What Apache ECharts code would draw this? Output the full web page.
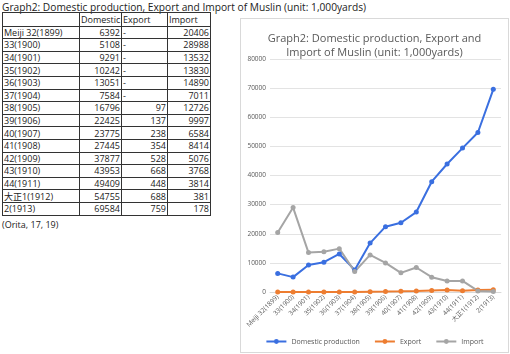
<!DOCTYPE html>
<html>
<head>
<meta charset="utf-8">
<script src="https://cdn.jsdelivr.net/npm/echarts@6/dist/echarts.min.js"></script>
<style>
  body { margin: 0; width: 510px; height: 354px; background: #fff; position: relative; overflow: hidden;
         font-family: "Open Sans", "Noto Sans CJK JP", sans-serif; }
  #title { position: absolute; left: 2px; top: 0px; font-size: 10.2px; color: #222; white-space: nowrap; }
  table { position: absolute; left: 2px; top: 12px; border-collapse: collapse; font-size: 9px; color: #222;
          table-layout: fixed; width: 208px; }
  td { border: 1px solid #333; padding: 0 1px; height: 11.6px; line-height: 11px; white-space: nowrap; overflow: hidden; }
  tr.head td { height: 12.6px; }
  td.num { text-align: right; }
  #note { position: absolute; left: 2px; top: 218px; font-size: 9px; color: #222; }
  #chart { position: absolute; left: 240px; top: 18px; width: 267px; height: 333px; border: 1px solid #d9d9d9; }
</style>
</head>
<body>
<div id="title">Graph2: Domestic production, Export and Import of Muslin (unit: 1,000yards)</div>
<table id="tbl"></table>
<div id="note">(Orita, 17, 19)</div>
<div id="chart"></div>
<script>
const years = ['Meiji 32(1899)', '33(1900)', '34(1901)', '35(1902)', '36(1903)', '37(1904)', '38(1905)',
  '39(1906)', '40(1907)', '41(1908)', '42(1909)', '43(1910)', '44(1911)', '大正1(1912)', '2(1913)'];
const domestic = [6392, 5108, 9291, 10242, 13051, 7584, 16796, 22425, 23775, 27445, 37877, 43953, 49409, 54755, 69584];
// '-' in the table, plotted as 0
const exportTable = [null, null, null, null, null, null, 97, 137, 238, 354, 528, 668, 448, 688, 759];
const imports = [20406, 28988, 13532, 13830, 14890, 7011, 12726, 9997, 6584, 8414, 5076, 3768, 3814, 381, 178];

const colors = ['#3a6fe0', '#ed7d31', '#a5a5a5'];

// table on the left
const tbl = document.getElementById('tbl');
let html = '<colgroup><col style="width:77px"><col style="width:42px"><col style="width:46px"><col style="width:43px"></colgroup>' +
  '<tr class="head"><td></td><td>Domestic</td><td>Export</td><td>Import</td></tr>';
years.forEach((y, i) => {
  const ex = exportTable[i] == null ? '<td>-</td>' : '<td class="num">' + exportTable[i] + '</td>';
  html += '<tr><td>' + y + '</td><td class="num">' + domestic[i] + '</td>' + ex +
    '<td class="num">' + imports[i] + '</td></tr>';
});
tbl.innerHTML = html;

const chart = echarts.init(document.getElementById('chart'));
const lineSeries = (name, data, color) => ({
  name: name,
  type: 'line',
  data: data,
  symbol: 'circle',
  symbolSize: 5,
  lineStyle: { width: 2, color: color },
  itemStyle: { color: color },
  emphasis: { disabled: true }
});

chart.setOption({
  animation: false,
  title: {
    text: 'Graph2: Domestic production, Export and\nImport of Muslin (unit: 1,000yards)',
    left: 'center',
    top: 8,
    textStyle: { fontSize: 11, fontWeight: 'normal', color: '#595959', lineHeight: 14,
      fontFamily: 'Open Sans' }
  },
  legend: {
    bottom: 2,
    left: 'center',
    itemWidth: 20,
    itemHeight: 6,
    itemGap: 14,
    textStyle: { fontSize: 7, color: '#595959', fontFamily: 'Open Sans' },
    data: ['Domestic production', 'Export', 'Import']
  },
  grid: { left: 29, right: 7, top: 40, bottom: 60 },
  xAxis: {
    type: 'category',
    data: years,
    axisLine: { lineStyle: { color: '#d9d9d9' } },
    axisTick: { show: false },
    axisLabel: { rotate: 45, fontSize: 6.5, color: '#595959', margin: 4, interval: 0,
      fontFamily: 'Open Sans, Noto Sans CJK JP' }
  },
  yAxis: {
    type: 'value',
    min: 0,
    max: 80000,
    interval: 10000,
    axisLine: { show: false },
    axisTick: { show: false },
    splitLine: { lineStyle: { color: '#e3e3e3' } },
    axisLabel: { fontSize: 6.5, color: '#595959', margin: 4, fontFamily: 'Open Sans',
      formatter: v => String(v) }
  },
  series: [
    lineSeries('Domestic production', domestic, colors[0]),
    lineSeries('Export', exportTable.map(v => v == null ? 0 : v), colors[1]),
    lineSeries('Import', imports, colors[2])
  ]
});
</script>
</body>
</html>
